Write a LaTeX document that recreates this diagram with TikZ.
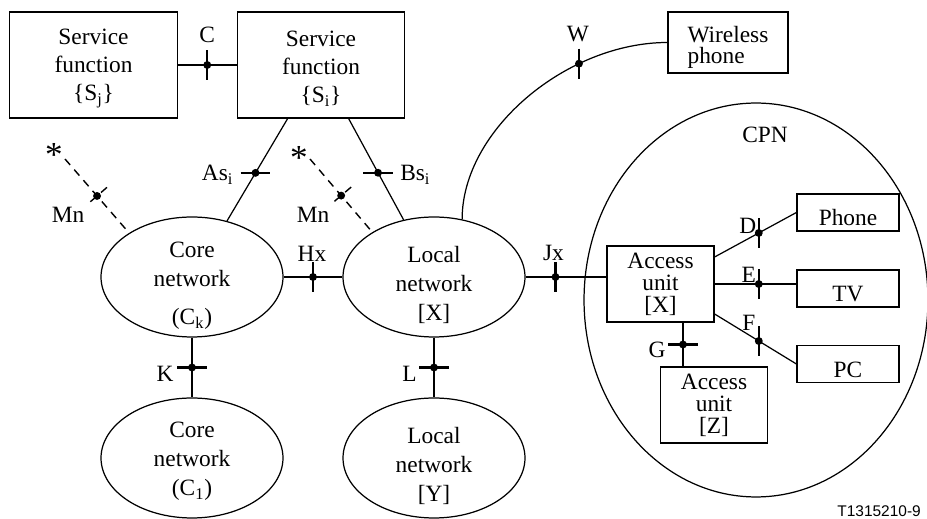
\documentclass[tikz,border=0pt]{standalone}
\usepackage{fontspec}
\setmainfont{Liberation Serif}
\newfontfamily\figfont{Liberation Sans}
\usetikzlibrary{shapes.geometric,calc}

\tikzset{
box/.style={draw, line width=0.7pt, inner sep=0pt, align=center},
svcbox/.style={box, minimum width=3.35cm, minimum height=2.12cm, font=\fontsize{13.3}{16}\selectfont},
unitbox/.style={box, minimum width=2.14cm, minimum height=1.52cm, font=\fontsize{13.3}{12.5}\selectfont},
devbox/.style={draw, line width=0.7pt, inner sep=0pt, minimum width=2.04cm, minimum height=0.74cm, text height=15pt, text depth=0pt},
net/.style={draw, ellipse, line width=0.7pt, inner sep=0pt, minimum width=3.64cm, minimum height=2.4cm},
nettext/.style={anchor=north, inner sep=0pt, align=center, font=\fontsize{13.3}{16.5}\selectfont},
refpt/.style={circle, fill, inner sep=0pt, minimum size=4.5pt},
tick/.style={line width=1.2pt},
wire/.style={line width=0.7pt},
bus/.style={line width=1.2pt},
mgmt/.style={line width=0.8pt, dash pattern=on 4.5pt off 3.5pt},
star/.style={anchor=base, font=\fontsize{20}{20}\selectfont},
}

\begin{document}
\begin{tikzpicture}[x=0.02cm, y=-0.02cm, font=\fontsize{13.3}{15}\selectfont]
\useasboundingbox (0,0) rectangle (927,519);

% service functions
\node[svcbox] (Sj) at (93.5,65) {\rule{0pt}{13pt}Service\\function\\\{S\textsubscript{j}\}};
\node[svcbox] (Si) at (321,65) {\rule{0pt}{13pt}Service\\function\\\{S\textsubscript{i}\}};

% networks
\node[net] (Ck) at (192,277) {};
\node[nettext] (Ck-t) at (192,242) {Core\\network\\[5pt](C\textsubscript{k})};
\node[net] (Lx) at (434,277) {};
\node[nettext] (Lx-t) at (434,246) {Local\\network\\{[X]}};
\node[net] (C1) at (192,458) {};
\node[nettext] (C1-t) at (192,422) {Core\\network\\(C\textsubscript{1})};
\node[net] (Ly) at (434,458) {};
\node[nettext] (Ly-t) at (434,427) {Local\\network\\{[Y]}};

% customer premises
\node[net, minimum width=6.88cm, minimum height=7.88cm] (cpn) at (756,300) {};
\node[anchor=base] (cpn-t) at (765,143) {CPN};
\node[unitbox] (aux) at (660.5,284) {Access\\unit\\{[X]}};
\node[unitbox] (auz) at (714,405) {Access\\unit\\{[Z]}};
\node[devbox] (phone) at (848,212.5) {Phone};
\node[devbox] (tv) at (848,288.5) {TV};
\node[devbox] (pc) at (848,364) {PC};
\node[box, align=left, minimum width=2.4cm, minimum height=1.22cm, font=\fontsize{13.3}{12}\selectfont] (wp) at (728,42.5) {\rule{0pt}{15pt}Wireless\\phone};

% C
\draw[bus] (Sj.east) -- node[refpt] (pC) {} (Si.west);
\draw[tick] ([yshift=8.5pt]pC.center) -- ([yshift=-8.5pt]pC.center);
\node[anchor=base] (lC) at ($(pC)+(0,-22)$) {C};

% As, Bs
\draw[wire] ([xshift=1.02cm]Si.south west) -- node[pos=0.53, refpt] (pAs) {} (Ck.58);
\draw[tick] ([xshift=-8.5pt]pAs.center) -- ([xshift=8.5pt]pAs.center);
\node[anchor=base east] (lAs) at ($(pAs)+(-16,8)$) {As\textsubscript{i}};
\draw[wire] ([xshift=2.24cm]Si.south west) -- node[pos=0.535, refpt] (pBs) {} (Lx.118);
\draw[tick] ([xshift=-8.5pt]pBs.center) -- ([xshift=8.5pt]pBs.center);
\node[anchor=base west] (lBs) at ($(pBs)+(16,8)$) {Bs\textsubscript{i}};

% Mn
\node[star] (st1) at (54,167) {*};
\coordinate (mA) at (65,159);
\draw[mgmt] (mA) -- node[refpt] (pM1) {} (Ck.145);
\draw[mgmt] ($(pM1)!7.5pt!90:(Ck.145)$) -- ($(pM1)!7.5pt!-90:(Ck.145)$);
\node[anchor=base] (lM1) at (68,223) {Mn};
\node[star] (st2) at (299,170) {*};
\coordinate (mB) at (310,159);
\draw[mgmt] (mB) -- node[refpt] (pM2) {} (Lx.144);
\draw[mgmt] ($(pM2)!7.5pt!90:(Lx.144)$) -- ($(pM2)!7.5pt!-90:(Lx.144)$);
\node[anchor=base] (lM2) at (313,223) {Mn};

% Hx, K, L
\draw[bus] (Ck.east) -- node[refpt] (pHx) {} (Lx.west);
\draw[tick] ([yshift=8.5pt]pHx.center) -- ([yshift=-8.5pt]pHx.center);
\node[anchor=base] (lHx) at ($(pHx)+(-1,-15)$) {Hx};
\draw[wire] (Ck.south) -- node[refpt] (pK) {} (C1.north);
\draw[tick] ([xshift=-8.5pt]pK.center) -- ([xshift=8.5pt]pK.center);
\node[anchor=base] (lK) at ($(pK)+(-27,14.5)$) {K};
\draw[wire] (Lx.south) -- node[refpt] (pL) {} (Ly.north);
\draw[tick] ([xshift=-8.5pt]pL.center) -- ([xshift=8.5pt]pL.center);
\node[anchor=base] (lL) at ($(pL)+(-24.5,14.5)$) {L};

% W
\draw[wire] (Lx.64) .. controls +(0,-90) and +(-100,0) .. node[pos=0.7, refpt] (pW) {} (wp.west);
\draw[tick] ([yshift=8.5pt]pW.center) -- ([yshift=-8.5pt]pW.center);
\node[anchor=base] (lW) at ($(pW)+(-1,-22)$) {W};

% Jx
\draw[bus] (Lx.east) -- node[pos=0.37, refpt] (pJx) {} (Lx.east -| aux.west);
\draw[tick] ([yshift=8.5pt]pJx.center) -- ([yshift=-8.5pt]pJx.center);
\node[anchor=base] (lJx) at ($(pJx)+(-2,-16)$) {Jx};

% D, E, F, G
\draw[wire] ([yshift=0.54cm]aux.east) -- node[pos=0.54, refpt] (pD) {} (phone.west);
\draw[tick] ([yshift=8.5pt]pD.center) -- ([yshift=-8.5pt]pD.center);
\node[anchor=base] (lD) at ($(pD)+(-11,1)$) {D};
\draw[bus] (aux.east) -- node[pos=0.54, refpt] (pE) {} (aux.east -| tv.west);
\draw[tick] ([yshift=8.5pt]pE.center) -- ([yshift=-8.5pt]pE.center);
\node[anchor=base] (lE) at ($(pE)+(-10,-1)$) {E};
\draw[wire] ([yshift=-0.6cm]aux.east) -- node[pos=0.54, refpt] (pF) {} (pc.west);
\draw[tick] ([yshift=8.5pt]pF.center) -- ([yshift=-8.5pt]pF.center);
\node[anchor=base] (lF) at ($(pF)+(-10,-10)$) {F};
\draw[bus] ([xshift=0.45cm]aux.south) -- node[refpt] (pG) {} ([xshift=0.45cm]aux.south |- auz.north);
\draw[tick] ([xshift=-8.5pt]pG.center) -- ([xshift=8.5pt]pG.center);
\node[anchor=base] (lG) at ($(pG)+(-26,13.5)$) {G};

\node[anchor=base east, font=\figfont\fontsize{8.8}{10}\selectfont] (fig-id) at (927,517) {T1315210-9};
\end{tikzpicture}
\end{document}
